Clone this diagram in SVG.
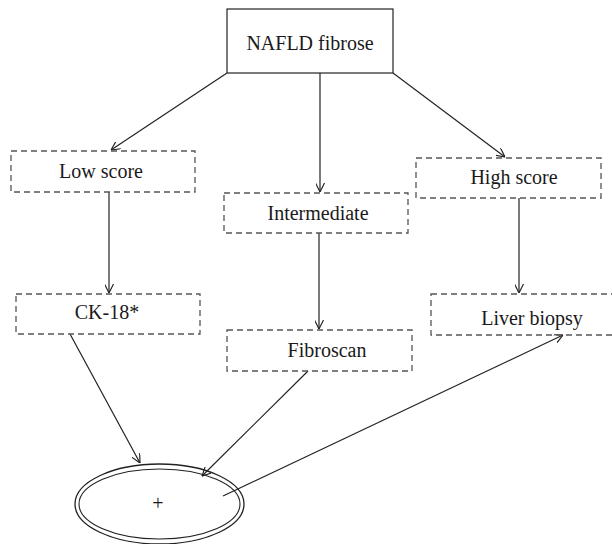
<svg xmlns="http://www.w3.org/2000/svg" width="612" height="544" viewBox="0 0 612 544">
<style>
.t{font-family:"Liberation Serif","Times New Roman",serif;font-size:20px;fill:#1a1a1a;text-anchor:middle}
.solid{fill:#fff;stroke:#222;stroke-width:1.2}
.dash{fill:none;stroke:#555;stroke-width:1.3;stroke-dasharray:6,4}
.c{stroke:#222;stroke-width:1.2;fill:none}
</style>
<defs>
<marker id="ah" viewBox="0 0 10 10" refX="10" refY="5" markerWidth="9" markerHeight="9" markerUnits="userSpaceOnUse" orient="auto">
<path d="M0,0 L10,5 L0,10" fill="none" stroke="#222" stroke-width="1.3"/>
</marker>
</defs>
<rect width="612" height="544" fill="#fff"/>
<g id="connectors">
<line class="c" x1="227" y1="73" x2="111" y2="150" marker-end="url(#ah)"/>
<line class="c" x1="320" y1="73" x2="320" y2="192" marker-end="url(#ah)"/>
<line class="c" x1="393" y1="73" x2="505" y2="157" marker-end="url(#ah)"/>
<line class="c" x1="109" y1="192" x2="109" y2="293" marker-end="url(#ah)"/>
<line class="c" x1="319" y1="233" x2="319" y2="329" marker-end="url(#ah)"/>
<line class="c" x1="519" y1="198" x2="519" y2="293" marker-end="url(#ah)"/>
<line class="c" x1="70" y1="334" x2="140" y2="463" marker-end="url(#ah)"/>
<line class="c" x1="308" y1="371" x2="202" y2="476" marker-end="url(#ah)"/>
<line class="c" x1="223" y1="496" x2="563" y2="335" marker-end="url(#ah)"/>
</g>
<g id="nafld">
<rect class="solid" x="227" y="9" width="166" height="64"/>
<text class="t" x="310" y="50">NAFLD fibrose</text>
</g>
<g id="low">
<rect class="dash" x="11" y="151" width="184" height="41"/>
<text class="t" x="101" y="178">Low score</text>
</g>
<g id="intermediate">
<rect class="dash" x="224" y="193" width="184" height="40"/>
<text class="t" x="318" y="220">Intermediate</text>
</g>
<g id="high">
<rect class="dash" x="416" y="158" width="185" height="40"/>
<text class="t" x="514" y="184">High score</text>
</g>
<g id="ck18">
<rect class="dash" x="16" y="294" width="184" height="40"/>
<text class="t" x="107" y="319">CK-18*</text>
</g>
<g id="fibroscan">
<rect class="dash" x="227" y="330" width="185" height="41"/>
<text class="t" x="327" y="357">Fibroscan</text>
</g>
<g id="liver">
<rect class="dash" x="431" y="294" width="190" height="41"/>
<text class="t" x="532" y="325">Liver biopsy</text>
</g>
<g id="result">
<ellipse cx="159.5" cy="504" rx="84.5" ry="40" fill="none" stroke="#222" stroke-width="1.3"/>
<ellipse cx="159.5" cy="504" rx="80.5" ry="35" fill="none" stroke="#222" stroke-width="1.1"/>
<text class="t" x="158" y="510">+</text>
</g>
</svg>
